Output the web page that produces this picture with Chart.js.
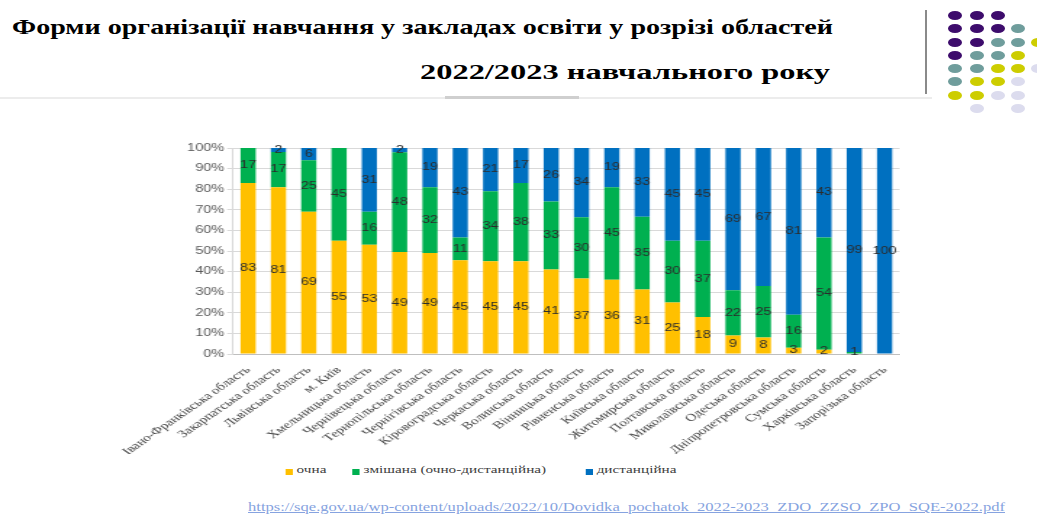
<!DOCTYPE html>
<html>
<head>
<meta charset="utf-8">
<script src="https://cdn.jsdelivr.net/npm/chart.js@4.4.0/dist/chart.umd.min.js"></script>
<style>
html,body{margin:0;padding:0;background:#fff;width:1037px;height:515px;overflow:hidden;position:relative;font-family:"Liberation Serif","DejaVu Serif",serif;}
.fit{position:absolute;white-space:nowrap;transform-origin:0 0;line-height:1;}
#t1,#t2{font-family:"Liberation Serif","DejaVu Serif",serif;font-weight:bold;font-size:22px;color:#000;}
#t1{left:12px;top:16px;}
#t2{left:420px;top:61px;}
#vline{position:absolute;left:925px;top:10px;width:2px;height:84px;background:#8a8a8a;}
#hline{position:absolute;left:0;top:97px;width:932px;height:2px;background:#ececec;}
#hseg{position:absolute;left:445px;top:96px;width:134px;height:3px;background:#cfcfcf;}
.dot{position:absolute;width:14px;height:9px;border-radius:50%;}
#wrap{position:absolute;left:100px;top:140px;width:552px;height:314px;transform:scaleX(1.45);transform-origin:0 0;}
#legend{position:absolute;left:100px;top:464px;width:552px;height:16px;transform:scaleX(1.45);transform-origin:0 0;font-family:"Liberation Serif","DejaVu Serif",serif;font-size:10.5px;color:#404040;}
#legend .sw{position:absolute;top:5px;width:5px;height:6px;}
#legend .tx{position:absolute;top:1px;white-space:nowrap;line-height:1;}
#src{font-family:"Liberation Serif","DejaVu Serif",serif;font-size:13px;color:#86a3e0;text-decoration:underline;left:248px;top:500px;}
</style>
</head>
<body>
<div id="t1" class="fit">Форми організації навчання у закладах освіти у розрізі областей</div>
<div id="t2" class="fit">2022/2023 навчального року</div>
<div id="hline"></div>
<div id="hseg"></div>
<div id="vline"></div>
<div id="dots"></div>
<div id="wrap"><canvas id="c"></canvas></div>
<div id="legend"></div>
<div id="src" class="fit">https://sqe.gov.ua/wp-content/uploads/2022/10/Dovidka_pochatok_2022-2023_ZDO_ZZSO_ZPO_SQE-2022.pdf</div>
<script>
const categories = [
  "Івано-Франківська область","Закарпатська область","Львівська область","м. Київ",
  "Хмельницька область","Чернівецька область","Тернопільська область","Чернігівська область",
  "Кіровоградська область","Черкаська область","Волинська область","Вінницька область",
  "Рівненська область","Київська область","Житомирська область","Полтавська область",
  "Миколаївська область","Одеська область","Дніпропетровська область","Сумська область",
  "Харківська область","Запорізька область"
];
const seriesNames = ["очна","змішана (очно-дистанційна)","дистанційна"];
const inPerson = [83,81,69,55,53,49,49,45,45,45,41,37,36,31,25,18,9,8,3,2,0,0];
const blended  = [17,17,25,45,16,48,32,11,34,38,33,30,45,35,30,37,22,25,16,54,1,0];
const remote   = [0,2,6,0,31,2,19,43,21,17,26,34,19,33,45,45,69,67,81,43,99,100];
const yTicks = [0,10,20,30,40,50,60,70,80,90,100];
const colors = ["#FFC000","#00B050","#0070C0"];

// decorative dots
const dotColors = {P:"#3d0c6c",T:"#6f9d9c",Y:"#cdcd00",L:"#dcdcee"};
const dotRows = ["PPP..","PPPT.","PPTTY","PTTY.","TTYYL","TYYL.","YYLL.",".L.L."];
const dotX = [955,977,998,1018,1038], dotY = [15,28,42,55,68,81,95,108];
const dotsEl = document.getElementById('dots');
dotRows.forEach((row,r)=>{[...row].forEach((ch,c)=>{
  if(ch==='.') return;
  const d=document.createElement('div');d.className='dot';
  d.style.left=(dotX[c]-7)+'px';d.style.top=(dotY[r]-4.5)+'px';d.style.background=dotColors[ch];
  dotsEl.appendChild(d);
});});

// legend
const legend = document.getElementById('legend');
const legPos = [127.6,173.8,334.5];
seriesNames.forEach((n,i)=>{
  const s=document.createElement('div');s.className='sw';s.style.left=legPos[i]+'px';s.style.background=colors[i];
  const t=document.createElement('div');t.className='tx';t.style.left=(legPos[i]+8)+'px';t.textContent=n;
  legend.appendChild(s);legend.appendChild(t);
});

// fit texts to measured widths
function fit(id,w){const el=document.getElementById(id);const r=el.getBoundingClientRect().width;el.style.transform='scaleX('+(w/r)+')';}
fit('t1',821);fit('t2',410);fit('src',757);

const raw = [inPerson,blended,remote];
const totals = categories.map((_,j)=>inPerson[j]+blended[j]+remote[j]);
const share = arr => arr.map((v,j)=>v/totals[j]*100);

const valueLabels = {
  id:'valueLabels',
  afterDatasetsDraw(chart){
    const ctx=chart.ctx;ctx.save();
    ctx.font='10px "Liberation Sans"';ctx.fillStyle='#2b2b2b';
    ctx.textAlign='center';ctx.textBaseline='middle';
    chart.data.datasets.forEach((ds,i)=>{
      chart.getDatasetMeta(i).data.forEach((bar,j)=>{
        const v=raw[i][j]; if(!v) return;
        ctx.fillText(String(v),bar.x,(bar.y+bar.base)/2);
      });
    });
    ctx.restore();
  }
};

new Chart(document.getElementById('c'),{
  type:'bar',
  data:{labels:categories,datasets:seriesNames.map((n,i)=>({
    label:n,data:share(raw[i]),backgroundColor:colors[i],borderWidth:0,
    barPercentage:0.5,categoryPercentage:1
  }))},
  options:{
    responsive:true,maintainAspectRatio:false,animation:false,
    layout:{padding:{top:7,left:0,right:0,bottom:0}},
    plugins:{legend:{display:false},tooltip:{enabled:false}},
    scales:{
      x:{stacked:true,grid:{display:false},border:{display:true,color:'#bfbfbf'},
        ticks:{autoSkip:false,minRotation:45,maxRotation:45,padding:2,color:'#404040',
          font:{family:'"Liberation Serif", "DejaVu Serif", serif',size:10.5}},
        afterFit(s){s.height=100;}},
      y:{stacked:true,min:0,max:100,
        afterBuildTicks(s){s.ticks=yTicks.map(v=>({value:v}));},
        ticks:{callback:v=>v+'%',padding:2,color:'#595959',font:{family:'"Liberation Sans"',size:10}},
        grid:{color:'#d9d9d9',tickLength:4},border:{display:true,color:'#d9d9d9'},
        afterFit(s){s.width=91.7;}}
    }
  },
  plugins:[valueLabels]
});
</script>
</body>
</html>
